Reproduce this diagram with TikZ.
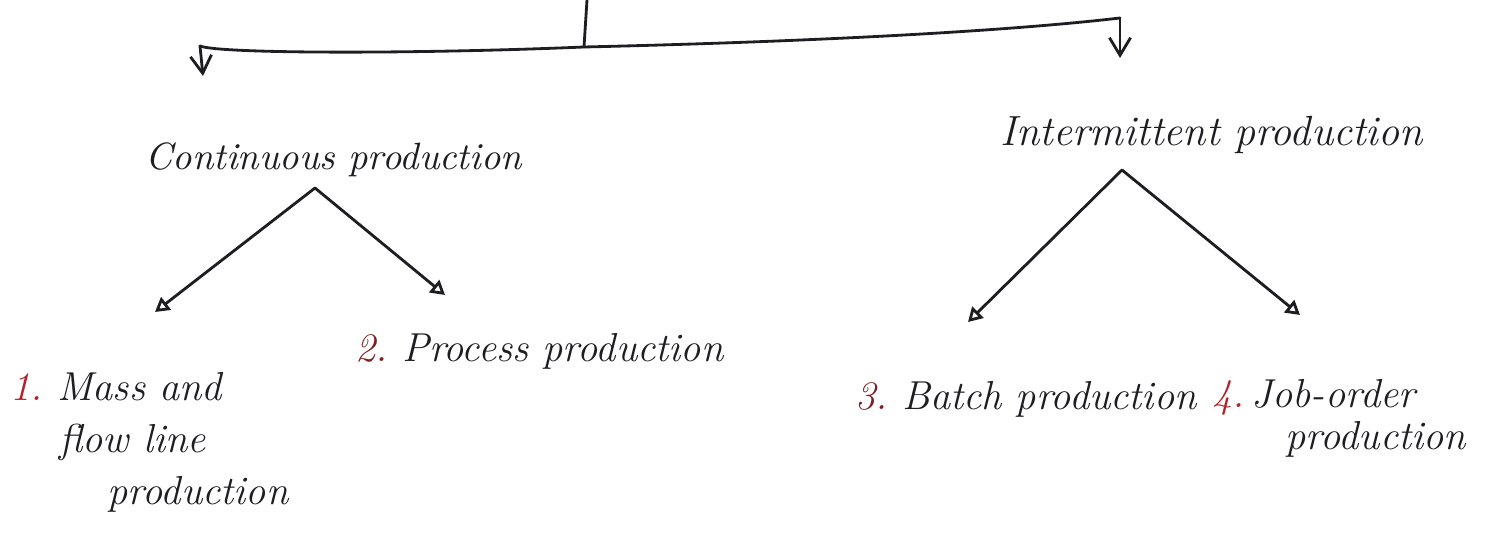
\documentclass[tikz,border=0pt]{standalone}
\usetikzlibrary{arrows.meta}
\definecolor{ink}{HTML}{1E1E22}
\definecolor{redink}{HTML}{B3222A}
\definecolor{maroonink}{HTML}{7A2024}
\begin{document}
\begin{tikzpicture}[x=0.01cm,y=-0.01cm,
  pen/.style={draw=ink,line width=0.8pt,line cap=round,line join=round},
  drop/.style={pen,-{Straight Barb[length=5pt,width=6pt]}},
  branch/.style={pen,-{Triangle[open,length=4pt,width=4.5pt]}},
  hand/.style={text=ink,font=\fontsize{11.5}{14.8}\selectfont\itshape,
    inner sep=0pt,anchor=base west,align=left},
]
\useasboundingbox (0,0) rectangle (1502,534);

% category and type labels (multi-line nodes sit on their last baseline)
\node[hand,font=\fontsize{10.8}{13}\selectfont\itshape] (cont) at (145,170)
  {Continuous production};
\node[hand,font=\fontsize{12}{14}\selectfont\itshape] (inter) at (1000,146)
  {Intermittent production};
\node[hand] (mass)  at (10,505)   {\textcolor{redink}{1.}~Mass and\\
  \hspace*{1.2em}flow line\\ \hspace*{2.4em}production};
\node[hand] (proc)  at (355,362)  {\textcolor{maroonink}{2.}~Process production};
\node[hand] (batch) at (855,410)  {\textcolor{maroonink}{3.}~Batch production};
\node[hand,font=\fontsize{11.5}{12.2}\selectfont\itshape] (job) at (1212,450)
  {\textcolor{redink}{4.}\,Job-order\\ \hspace*{1.8em}production};

% top bracket
\coordinate (stem)    at (587,0);
\coordinate (hub)     at (584,47);
\coordinate (lcorner) at (200,46);
\coordinate (rcorner) at (1120,18);
\coordinate (ltip)    at (203,76);
\coordinate (rtip)    at (1120,58);
\draw[pen] (stem) -- (hub);
\draw[pen] (lcorner) .. controls (220,54) and (420,54) .. (hub);
\draw[pen] (hub) .. controls (800,42) and (1000,32) .. (rcorner);
\draw[drop] (lcorner) -- (ltip);
\draw[drop] (rcorner) -- (rtip);

% branches
\coordinate (apexL) at (315,188);
\coordinate (tipM)  at (155,312);
\coordinate (tipP)  at (445,295);
\coordinate (apexR) at (1122,170);
\coordinate (tipB)  at (968,322);
\coordinate (tipJ)  at (1300,315);
\draw[branch] (apexL) -- (tipM);
\draw[branch] (apexL) -- (tipP);
\draw[branch] (apexR) -- (tipB);
\draw[branch] (apexR) -- (tipJ);
\end{tikzpicture}
\end{document}
